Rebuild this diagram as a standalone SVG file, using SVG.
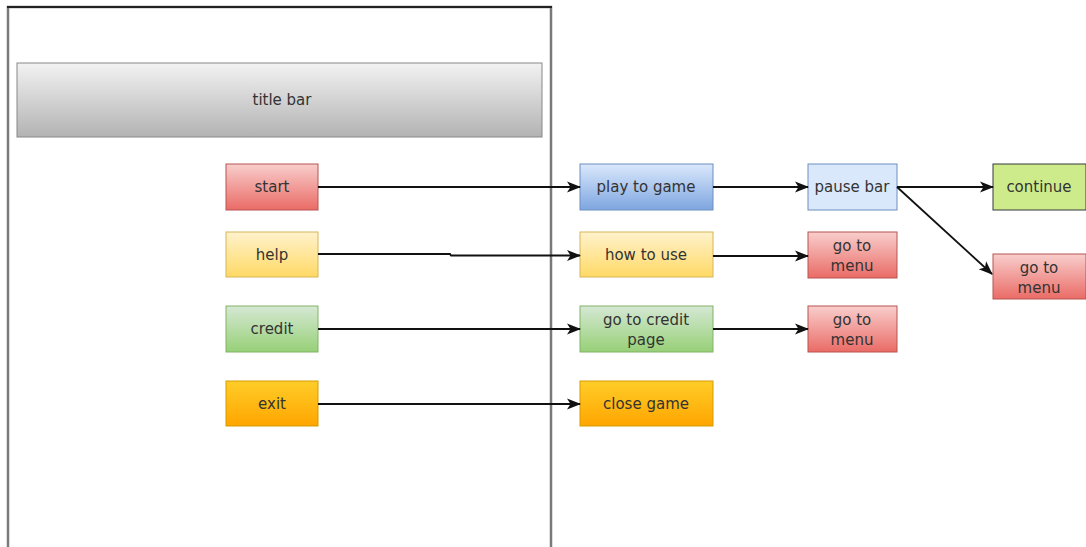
<svg xmlns="http://www.w3.org/2000/svg" width="1086" height="547" viewBox="0 0 1086 547">
<defs>
<linearGradient id="gGray" x1="0" y1="0" x2="0" y2="1"><stop offset="0" stop-color="#f2f2f2"/><stop offset="1" stop-color="#b3b3b3"/></linearGradient>
<linearGradient id="gRed" x1="0" y1="0" x2="0" y2="1"><stop offset="0" stop-color="#f8cecc"/><stop offset="1" stop-color="#ea6b66"/></linearGradient>
<linearGradient id="gYel" x1="0" y1="0" x2="0" y2="1"><stop offset="0" stop-color="#fff2cc"/><stop offset="1" stop-color="#ffd966"/></linearGradient>
<linearGradient id="gGrn" x1="0" y1="0" x2="0" y2="1"><stop offset="0" stop-color="#d5e8d4"/><stop offset="1" stop-color="#97d077"/></linearGradient>
<linearGradient id="gOrg" x1="0" y1="0" x2="0" y2="1"><stop offset="0" stop-color="#ffcd28"/><stop offset="1" stop-color="#ffa500"/></linearGradient>
<linearGradient id="gBlu" x1="0" y1="0" x2="0" y2="1"><stop offset="0" stop-color="#dae8fc"/><stop offset="1" stop-color="#7ea6e0"/></linearGradient>
<marker id="arr" viewBox="0 0 14 12" refX="13" refY="6" markerWidth="14" markerHeight="12" markerUnits="userSpaceOnUse" orient="auto">
<path d="M0,0.5 L14,6 L0,11.5 L3.5,6 Z" fill="#111"/>
</marker>
</defs>
<style>
text{font-family:"DejaVu Sans","Liberation Sans",sans-serif;font-size:15px;fill:#333;text-anchor:middle;}
.red{fill:url(#gRed);stroke:#b85450;}
.yel{fill:url(#gYel);stroke:#d6b656;}
.grn{fill:url(#gGrn);stroke:#82b366;}
.org{fill:url(#gOrg);stroke:#d79b00;}
.blu{fill:url(#gBlu);stroke:#6c8ebf;}
.lblu{fill:#dae8fc;stroke:#6c8ebf;}
.lime{fill:#cdeb8b;stroke:#36393d;}
.conn{fill:none;stroke:#111;stroke-width:1.8;marker-end:url(#arr);}
</style>
<rect width="1086" height="547" fill="#fff"/>
<g id="frame">
<path d="M8,547 L8,7 L551,7 L551,547" fill="none" stroke="#7a7a7a" stroke-width="2.5"/>
<line x1="7" y1="7" x2="552" y2="7" stroke="#222" stroke-width="2"/>
</g>
<g id="titlebar"><rect x="17" y="63" width="525" height="74" fill="url(#gGray)" stroke="#888"/><text x="282" y="105">title bar</text></g>
<g id="start"><rect class="red" x="226" y="164" width="92" height="46"/><text x="272" y="192">start</text></g>
<g id="help"><rect class="yel" x="226" y="232" width="92" height="45"/><text x="272" y="260">help</text></g>
<g id="credit"><rect class="grn" x="226" y="306" width="92" height="46"/><text x="272" y="334">credit</text></g>
<g id="exit"><rect class="org" x="226" y="381" width="92" height="45"/><text x="272" y="409">exit</text></g>
<g id="play"><rect class="blu" x="580" y="164" width="133" height="46"/><text x="646" y="192">play to game</text></g>
<g id="howto"><rect class="yel" x="580" y="232" width="133" height="45"/><text x="646" y="260">how to use</text></g>
<g id="creditpage"><rect class="grn" x="580" y="306" width="133" height="46"/><text x="646" y="325">go to credit</text><text x="646" y="345">page</text></g>
<g id="close"><rect class="org" x="580" y="381" width="133" height="45"/><text x="646" y="409">close game</text></g>
<g id="pause"><rect class="lblu" x="808" y="164" width="89" height="46"/><text x="852" y="192">pause bar</text></g>
<g id="menu1"><rect class="red" x="808" y="232" width="89" height="46"/><text x="852" y="251">go to</text><text x="852" y="271">menu</text></g>
<g id="menu2"><rect class="red" x="808" y="306" width="89" height="46"/><text x="852" y="325">go to</text><text x="852" y="345">menu</text></g>
<g id="continue"><rect class="lime" x="993" y="164" width="93" height="46"/><text x="1039" y="192">continue</text></g>
<g id="menu3"><rect class="red" x="993" y="254" width="93" height="45"/><text x="1039" y="273">go to</text><text x="1039" y="293">menu</text></g>
<g id="connectors">
<path class="conn" d="M318,187 L580,187"/>
<path class="conn" d="M318,254 L450,254 L451,255.5 L580,255.5"/>
<path class="conn" d="M318,329 L580,329"/>
<path class="conn" d="M318,404 L580,404"/>
<path class="conn" d="M713,187 L808,187"/>
<path class="conn" d="M713,256 L808,256"/>
<path class="conn" d="M713,329 L808,329"/>
<path class="conn" d="M897,187 L993,187"/>
<path class="conn" d="M897,187 L992,274"/>
</g>
</svg>
